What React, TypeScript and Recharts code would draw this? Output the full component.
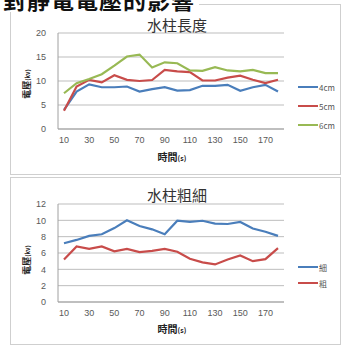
import React from 'react';
import { LineChart, Line, XAxis, YAxis, CartesianGrid } from 'recharts';

// Sampling times (s)
const times = [10, 20, 30, 40, 50, 60, 70, 80, 90, 100, 110, 120, 130, 140, 150, 160, 170, 180];

// Voltage (kv) by water-column length
const len4cm = [4.0, 7.8, 9.3, 8.7, 8.7, 8.85, 7.8, 8.3, 8.7, 8.0, 8.1, 9.0, 9.0, 9.2, 7.95, 8.7, 9.2, 7.8];
const len5cm = [3.8, 8.85, 10.25, 9.7, 11.2, 10.25, 10.0, 10.2, 12.3, 12.0, 11.85, 10.1, 10.1, 10.7, 11.1, 10.25, 9.55, 10.25];
const len6cm = [7.45, 9.55, 10.4, 11.4, 13.2, 15.1, 15.5, 12.8, 13.9, 13.7, 12.2, 12.1, 12.9, 12.2, 12.0, 12.3, 11.65, 11.65];

// Voltage (kv) by water-column thickness
const thin = [7.2, 7.6, 8.1, 8.3, 9.05, 10.0, 9.3, 8.9, 8.3, 9.95, 9.8, 9.95, 9.6, 9.55, 9.8, 9.0, 8.6, 8.1];
const thick = [5.2, 6.8, 6.5, 6.8, 6.2, 6.5, 6.1, 6.25, 6.5, 6.15, 5.3, 4.85, 4.6, 5.2, 5.7, 5.0, 5.25, 6.6];

const lengthTicks = [0, 5, 10, 15, 20];
const thicknessTicks = [0, 2, 4, 6, 8, 10, 12];

const BLUE = '#4a7ebb';
const RED = '#c84c4a';
const GREEN = '#98b954';

const lengthData = times.map((t, i) => ({ t, a: len4cm[i], b: len5cm[i], c: len6cm[i] }));
const thicknessData = times.map((t, i) => ({ t, thin: thin[i], thick: thick[i] }));

type Series = { key: string; name: string; color: string };

const tickStyle = { fontSize: 9, fill: '#595959', fontFamily: 'Liberation Sans, Arial, sans-serif' };

function Panel(props: {
  top: number;
  height: number;
  boxTop: number;
  boxHeight: number;
  title: string;
  titleY: number;
  data: any[];
  series: Series[];
  ticks: number[];
  margin: { top: number; right: number; bottom: number; left: number };
  yLabelY: number;
  xLabelY: number;
  legendTop: number;
  legendGap: number;
}) {
  const { top, height, data, series, ticks, margin } = props;
  return (
    <>
      <div
        style={{
          position: 'absolute',
          left: 10,
          top: props.boxTop,
          width: 331,
          height: props.boxHeight,
          border: '1px solid #cfcfcf',
          boxSizing: 'border-box',
          background: '#fff',
        }}
      />
      <div style={{ position: 'absolute', left: 0, top }}>
        <LineChart width={345} height={height} data={data} margin={margin}>
          <CartesianGrid vertical={false} stroke="#bdbdbd" strokeWidth={1} />
          <XAxis
            dataKey="t"
            interval={1}
            height={20}
            padding={{ left: 6, right: 6 }}
            tickSize={0}
            tickMargin={8}
            tick={tickStyle}
            axisLine={{ stroke: '#a0a0a0' }}
          />
          <YAxis
            width={58}
            domain={[ticks[0], ticks[ticks.length - 1]]}
            ticks={ticks}
            interval={0}
            tickSize={0}
            tickMargin={12}
            tick={tickStyle}
            axisLine={{ stroke: '#a0a0a0' }}
          />
          {series.map((s) => (
            <Line
              key={s.key}
              type="linear"
              dataKey={s.key}
              name={s.name}
              stroke={s.color}
              strokeWidth={2.2}
              dot={false}
              isAnimationActive={false}
            />
          ))}
        </LineChart>
      </div>
      <div
        style={{
          position: 'absolute',
          left: 0,
          width: 354,
          top: props.titleY - 7.5,
          textAlign: 'center',
          fontFamily: 'Noto Sans CJK TC, sans-serif',
          fontSize: 15,
          lineHeight: '15px',
          color: '#333',
        }}
      >
        {props.title}
      </div>
      <div
        style={{
          position: 'absolute',
          left: 27,
          top: props.yLabelY,
          transform: 'translate(-50%, -50%) rotate(-90deg)',
          whiteSpace: 'nowrap',
          fontFamily: 'Noto Sans CJK TC, sans-serif',
          fontWeight: 700,
          fontSize: 9,
          lineHeight: '10px',
          color: '#222',
        }}
      >
        電壓<span style={{ fontSize: 6 }}>(kv)</span>
      </div>
      <div
        style={{
          position: 'absolute',
          left: 172,
          top: props.xLabelY,
          transform: 'translate(-50%, -50%)',
          whiteSpace: 'nowrap',
          fontFamily: 'Noto Sans CJK TC, sans-serif',
          fontWeight: 700,
          fontSize: 10,
          lineHeight: '12px',
          color: '#222',
        }}
      >
        時間<span style={{ fontSize: 7 }}>(s)</span>
      </div>
      {series.map((s, i) => (
        <div
          key={s.key}
          style={{
            position: 'absolute',
            left: 298,
            top: props.legendTop + i * props.legendGap - 6,
            height: 12,
            display: 'flex',
            alignItems: 'center',
            fontFamily: 'Noto Sans CJK TC, sans-serif',
            fontSize: 8,
            color: '#555',
            whiteSpace: 'nowrap',
          }}
        >
          <span style={{ display: 'inline-block', width: 20, height: 2, background: s.color, marginRight: 1 }} />
          {s.name}
        </div>
      ))}
    </>
  );
}

export default function App() {
  return (
    <div style={{ position: 'absolute', left: 0, top: 0, width: 345, height: 347, background: '#fff', overflow: 'hidden' }}>
      <Panel
        top={0}
        height={175}
        boxTop={4}
        boxHeight={171}
        title="水柱長度"
        titleY={24}
        data={lengthData}
        series={[
          { key: 'a', name: '4cm', color: BLUE },
          { key: 'b', name: '5cm', color: RED },
          { key: 'c', name: '6cm', color: GREEN },
        ]}
        ticks={lengthTicks}
        margin={{ top: 33, right: 61, bottom: 26, left: 0 }}
        yLabelY={84}
        xLabelY={157}
        legendTop={87}
        legendGap={19}
      />
      <Panel
        top={175}
        height={172}
        boxTop={177}
        boxHeight={168}
        title="水柱粗細"
        titleY={194}
        data={thicknessData}
        series={[
          { key: 'thin', name: '細', color: BLUE },
          { key: 'thick', name: '粗', color: RED },
        ]}
        ticks={thicknessTicks}
        margin={{ top: 29, right: 61, bottom: 25, left: 0 }}
        yLabelY={260}
        xLabelY={329}
        legendTop={267}
        legendGap={16}
      />
      <div
        style={{
          position: 'absolute',
          left: 3,
          top: -14,
          height: 26,
          paddingRight: 4,
          background: '#fff',
          fontFamily: 'Noto Sans CJK TC, sans-serif',
          fontWeight: 700,
          fontSize: 23,
          lineHeight: '26px',
          letterSpacing: 1,
          color: '#111',
          whiteSpace: 'nowrap',
        }}
      >
        對靜電電壓的影響
      </div>
    </div>
  );
}
